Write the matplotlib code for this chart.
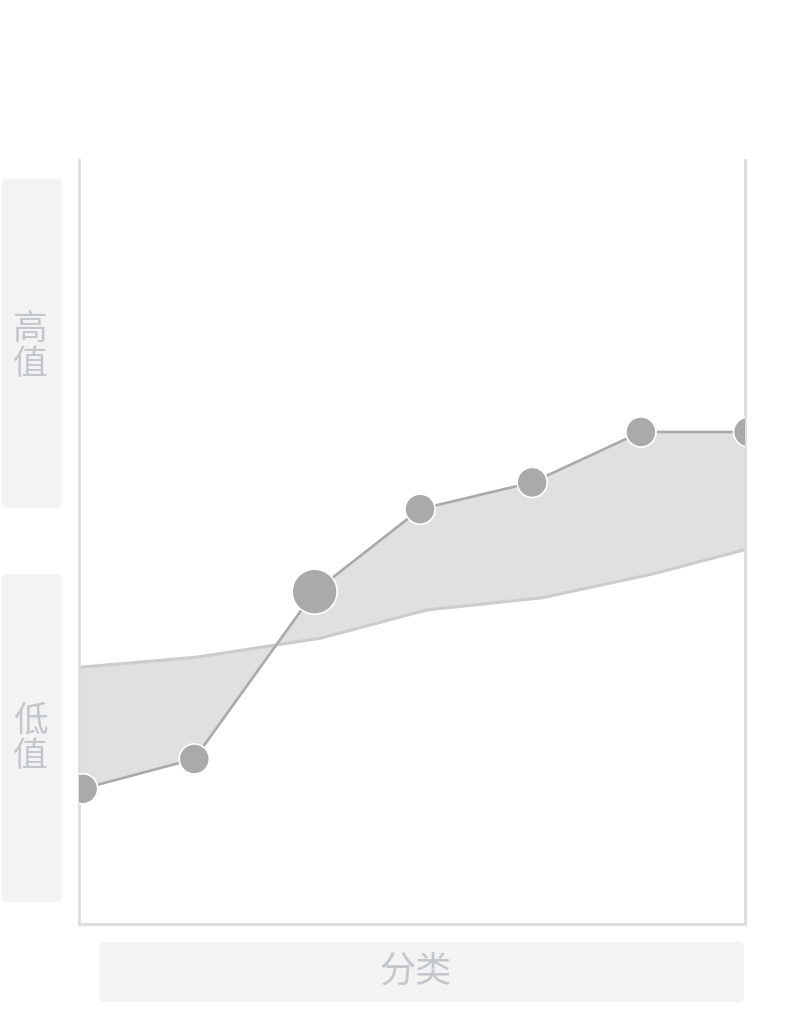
import matplotlib
matplotlib.use("Agg")
import matplotlib.pyplot as plt
from matplotlib.patches import FancyBboxPatch
import numpy as np

plt.rcParams['font.family'] = ['Noto Sans CJK SC', 'DejaVu Sans']

# ---- data ----
upper_x = [0.03, 1.036, 2.12, 3.07, 4.08, 5.06, 6.03]
upper_y = [17.7, 21.6, 43.5, 54.3, 57.8, 64.4, 64.4]
marker_sizes = [470, 470, 1050, 470, 470, 470, 470]
lower_x = [0.0, 1.04, 2.17, 3.13, 4.17, 5.16, 6.0]
lower_y = [33.6, 34.9, 37.4, 41.1, 42.7, 45.8, 49.0]
y_label_high = "高值"
y_label_low = "低值"
x_label = "分类"

W, H = 798, 1020
fig = plt.figure(figsize=(W / 100, H / 100), dpi=100)

def fx(px):
    return px / W

def fy(py):
    return 1 - py / H

ax_l, ax_r, ax_t, ax_b = 79.3, 745.3, 161, 925
ax = fig.add_axes([fx(ax_l), fy(ax_b), fx(ax_r) - fx(ax_l), fy(ax_t) - fy(ax_b)])
ax.set_xlim(0, 6)
ax.set_ylim(0, 100)

# fill between the two series
poly_x = np.concatenate([[0.0], upper_x, lower_x[::-1]])
poly_y = np.concatenate([[upper_y[0]], upper_y, lower_y[::-1]])
ax.fill(poly_x, poly_y, color='#e0e0e0', lw=0, zorder=1)
ax.plot(lower_x, lower_y, color='#cccccc', lw=2.2, zorder=2, solid_capstyle='butt')
ax.plot(upper_x, upper_y, color='#aaaaaa', lw=1.9, zorder=3)
ax.scatter(upper_x, upper_y, s=marker_sizes, color='#aaaaaa', edgecolors='white',
           linewidths=1.2, zorder=4)

ax.spines['top'].set_visible(False)
for side in ['left', 'right', 'bottom']:
    ax.spines[side].set_color('#dcdcdc')
    ax.spines[side].set_linewidth(2.0)
ax.set_xticks([])
ax.set_yticks([])

# side label panels
def panel(x0, y0, x1, y1):
    p = FancyBboxPatch((fx(x0), fy(y1)), fx(x1) - fx(x0), fy(y0) - fy(y1),
                       boxstyle="round,pad=0,rounding_size=0.005",
                       transform=fig.transFigure, facecolor='#f3f3f3',
                       edgecolor='none', zorder=0)
    fig.patches.append(p)

panel(1.7, 180, 61.7, 509)
panel(1.7, 575, 61.7, 903)
panel(99.3, 943, 743.7, 1003)

txt_color = '#c2c7cc'
fig.text(fx(30.5), fy(347), "\n".join(y_label_high), ha='center', va='center',
         fontsize=25, color=txt_color, linespacing=1.0)
fig.text(fx(30.5), fy(739), "\n".join(y_label_low), ha='center', va='center',
         fontsize=25, color=txt_color, linespacing=1.0)
fig.text(fx(415.5), fy(972), x_label, ha='center', va='center',
         fontsize=26, color=txt_color)

fig.savefig("out.png", dpi=100)
